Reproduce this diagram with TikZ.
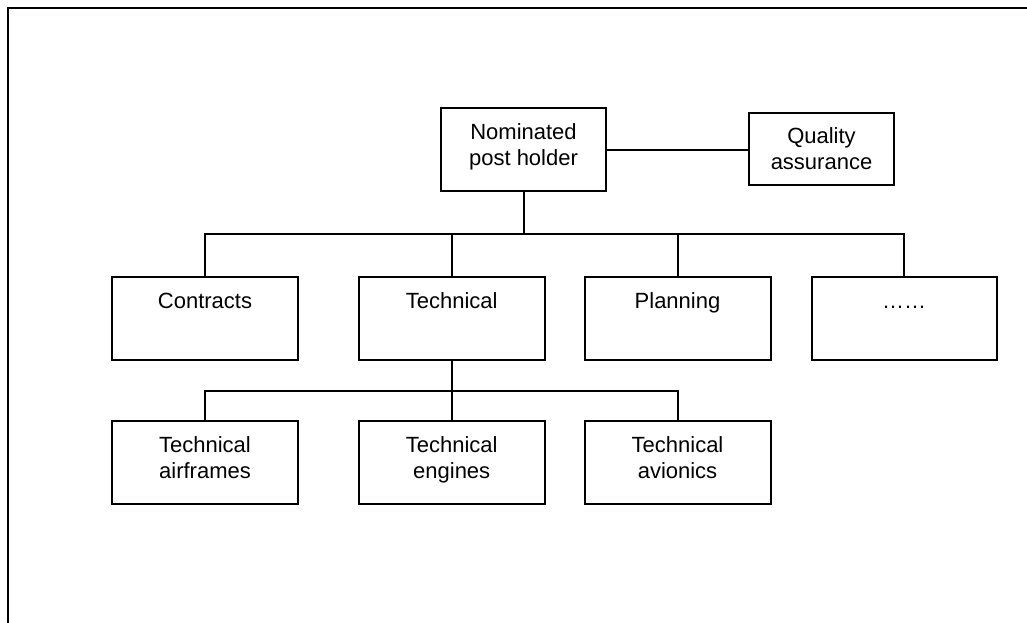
\documentclass[tikz,border=0pt]{standalone}
\usepackage{fontspec}
\setmainfont{Liberation Sans}
\usepackage{tikz}

\newcommand\rowstrut{\rule[-10pt]{0pt}{26pt}}

\tikzset{
  unit/.style={draw, line width=2pt, inner sep=0pt, align=center,
    minimum width=186pt, minimum height=83pt,
    font=\fontsize{22}{26}\selectfont},
}

\begin{document}
\begin{tikzpicture}[x=1pt,y=-1pt]
        \useasboundingbox (0,0) rectangle (1027,623);
        \draw[line width=2.8pt] (8,623) -- (8,8) -- (1027,8);

        \node[unit, minimum width=165pt] (nph) at (523.5,149.5) {\rowstrut Nominated\\\rowstrut post holder};
        \node[unit, minimum width=145pt, minimum height=72pt] (qa) at (821.5,149) {Quality\\assurance};

        \node[unit] (contracts) at (205,318.5) {\rowstrut Contracts\\\rowstrut};
        \node[unit] (technical) at (451.7,318.5) {\rowstrut Technical\\\rowstrut};
        \node[unit] (planning) at (677.5,318.5) {\rowstrut Planning\\\rowstrut};
        \node[unit, minimum width=185pt] (dots) at (904,318.5) {\rowstrut ……\\\rowstrut};

        \node[unit] (airframes) at (205,462.5) {\rowstrut Technical\\\rowstrut airframes};
        \node[unit] (engines) at (451.7,462.5) {\rowstrut Technical\\\rowstrut engines};
        \node[unit] (avionics) at (677.5,462.5) {\rowstrut Technical\\\rowstrut avionics};

        \coordinate (busa) at (523.5,234);
        \coordinate (busb) at (451.7,391);

        \begin{scope}[line width=2pt]
        \draw (nph.east) -- (nph.east -| qa.west);
        \draw (nph.south) -- (busa);
        \draw (contracts.north) -- (contracts.north |- busa) -- (dots.north |- busa) -- (dots.north);
        \foreach \n in {technical, planning}
            \draw (\n.north) -- (\n.north |- busa);
        \draw (technical.south) -- (busb);
        \draw (airframes.north) -- (airframes.north |- busb) -- (avionics.north |- busb) -- (avionics.north);
        \draw (engines.north) -- (engines.north |- busb);
        \end{scope}
\end{tikzpicture}
\end{document}
